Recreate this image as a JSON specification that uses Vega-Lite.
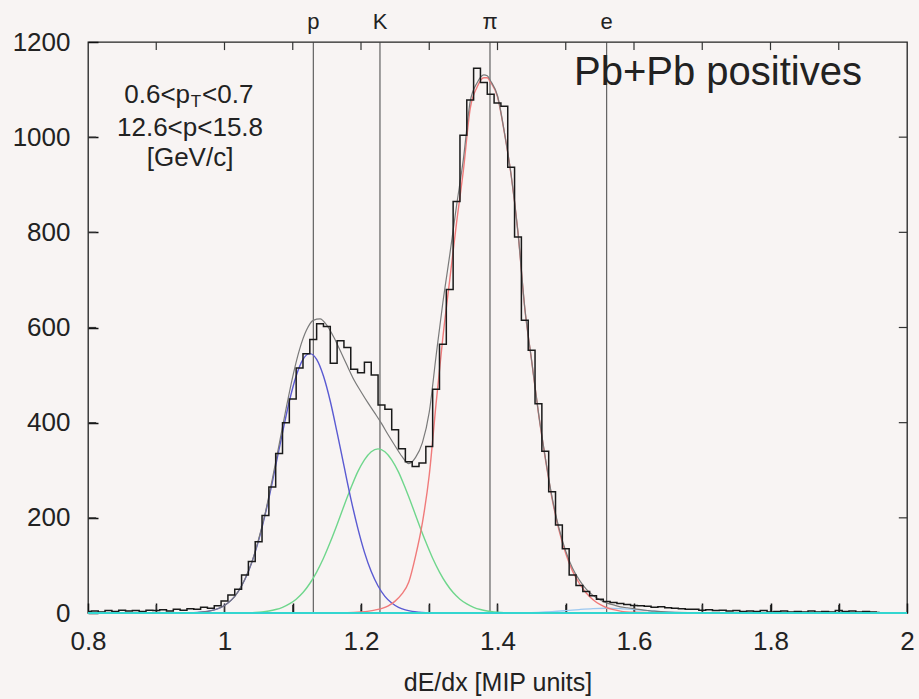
{
  "$schema": "https://vega.github.io/schema/vega-lite/v6.json",
  "width": 819,
  "height": 571,
  "autosize": {"type": "none"},
  "padding": {"left": 88, "top": 42, "right": 12, "bottom": 86},
  "background": "#f8f4f3",
  "config": {
    "view": {"stroke": "#222222", "strokeWidth": 1.3},
    "font": "Liberation Sans",
    "axis": {"grid": false, "domain": false, "ticks": true, "tickColor": "#111111", "tickWidth": 1.5, "labelColor": "#222222", "titleColor": "#222222", "labelFont": "Liberation Sans", "titleFont": "Liberation Sans"}
  },
  "datasets": {
    "hist": [
      {"x":0.80,"y":3},{"x":0.81,"y":4},{"x":0.82,"y":2},{"x":0.83,"y":5},{"x":0.84,"y":3},{"x":0.85,"y":6},{"x":0.86,"y":4},{"x":0.87,"y":5},{"x":0.88,"y":3},{"x":0.89,"y":6},
      {"x":0.90,"y":5},{"x":0.91,"y":7},{"x":0.92,"y":4},{"x":0.93,"y":8},{"x":0.94,"y":6},{"x":0.95,"y":9},{"x":0.96,"y":8},{"x":0.97,"y":12},{"x":0.98,"y":10},{"x":0.99,"y":15},
      {"x":1.00,"y":25},{"x":1.01,"y":38},{"x":1.02,"y":50},{"x":1.03,"y":80},{"x":1.04,"y":108},{"x":1.05,"y":150},{"x":1.06,"y":205},{"x":1.07,"y":265},{"x":1.08,"y":335},{"x":1.09,"y":400},
      {"x":1.10,"y":450},{"x":1.11,"y":515},{"x":1.12,"y":545},{"x":1.13,"y":575},{"x":1.14,"y":608},{"x":1.15,"y":602},{"x":1.16,"y":525},{"x":1.17,"y":572},{"x":1.18,"y":558},{"x":1.19,"y":512},
      {"x":1.20,"y":505},{"x":1.21,"y":527},{"x":1.22,"y":500},{"x":1.23,"y":437},{"x":1.24,"y":428},{"x":1.25,"y":385},{"x":1.26,"y":345},{"x":1.27,"y":318},{"x":1.28,"y":308},{"x":1.29,"y":315},
      {"x":1.30,"y":350},{"x":1.31,"y":470},{"x":1.32,"y":565},{"x":1.33,"y":680},{"x":1.34,"y":865},{"x":1.35,"y":1004},{"x":1.36,"y":1078},{"x":1.37,"y":1145},{"x":1.38,"y":1115},{"x":1.39,"y":1090},
      {"x":1.40,"y":1072},{"x":1.41,"y":1065},{"x":1.42,"y":937},{"x":1.43,"y":790},{"x":1.44,"y":615},{"x":1.45,"y":552},{"x":1.46,"y":440},{"x":1.47,"y":340},{"x":1.48,"y":255},{"x":1.49,"y":185},
      {"x":1.50,"y":135},{"x":1.51,"y":80},{"x":1.52,"y":58},{"x":1.53,"y":45},{"x":1.54,"y":36},{"x":1.55,"y":29},{"x":1.56,"y":24},{"x":1.57,"y":22},{"x":1.58,"y":20},{"x":1.59,"y":18},
      {"x":1.60,"y":16},{"x":1.61,"y":15},{"x":1.62,"y":14},{"x":1.63,"y":12},{"x":1.64,"y":13},{"x":1.65,"y":11},{"x":1.66,"y":10},{"x":1.67,"y":9},{"x":1.68,"y":8},{"x":1.69,"y":8},
      {"x":1.70,"y":6},{"x":1.71,"y":7},{"x":1.72,"y":5},{"x":1.73,"y":6},{"x":1.74,"y":4},{"x":1.75,"y":5},{"x":1.76,"y":3},{"x":1.77,"y":4},{"x":1.78,"y":3},{"x":1.79,"y":5},
      {"x":1.80,"y":2},{"x":1.81,"y":3},{"x":1.82,"y":4},{"x":1.83,"y":2},{"x":1.84,"y":3},{"x":1.85,"y":2},{"x":1.86,"y":4},{"x":1.87,"y":2},{"x":1.88,"y":3},{"x":1.89,"y":2},
      {"x":1.90,"y":5},{"x":1.91,"y":3},{"x":1.92,"y":4},{"x":1.93,"y":2},{"x":1.94,"y":3},{"x":1.95,"y":2},{"x":1.96,"y":1}
    ],
    "blue": [
      {"x":0.80,"y":0},{"x":0.945,"y":0.3},{"x":0.955,"y":0.8},{"x":0.965,"y":1.7},{"x":0.975,"y":3.3},{"x":0.985,"y":6.5},{"x":0.995,"y":11.9},{"x":1.005,"y":21},{"x":1.015,"y":35},{"x":1.025,"y":56.7},
      {"x":1.035,"y":87},{"x":1.045,"y":128},{"x":1.055,"y":180},{"x":1.065,"y":241},{"x":1.075,"y":309.5},{"x":1.085,"y":379},{"x":1.095,"y":445},{"x":1.105,"y":498},{"x":1.115,"y":533},{"x":1.125,"y":545},
      {"x":1.135,"y":533},{"x":1.145,"y":498},{"x":1.155,"y":445},{"x":1.165,"y":379},{"x":1.175,"y":309.5},{"x":1.185,"y":241},{"x":1.195,"y":180},{"x":1.205,"y":128},{"x":1.215,"y":87},{"x":1.225,"y":56.7},
      {"x":1.235,"y":35},{"x":1.245,"y":21},{"x":1.255,"y":11.9},{"x":1.265,"y":6.5},{"x":1.275,"y":3.3},{"x":1.285,"y":1.7},{"x":1.295,"y":0.8},{"x":1.305,"y":0.3},{"x":2.0,"y":0}
    ],
    "green": [
      {"x":0.80,"y":0},{"x":1.025,"y":0.4},{"x":1.035,"y":0.7},{"x":1.045,"y":1.3},{"x":1.055,"y":2.4},{"x":1.065,"y":4.3},{"x":1.075,"y":7.3},{"x":1.085,"y":12},{"x":1.095,"y":19},{"x":1.105,"y":29},
      {"x":1.115,"y":43},{"x":1.125,"y":62},{"x":1.135,"y":86},{"x":1.145,"y":115},{"x":1.155,"y":149},{"x":1.165,"y":186},{"x":1.175,"y":225},{"x":1.185,"y":262},{"x":1.195,"y":296},{"x":1.205,"y":322},
      {"x":1.215,"y":339},{"x":1.225,"y":345},{"x":1.235,"y":339},{"x":1.245,"y":322},{"x":1.255,"y":296},{"x":1.265,"y":262},{"x":1.275,"y":225},{"x":1.285,"y":186},{"x":1.295,"y":149},{"x":1.305,"y":115},
      {"x":1.315,"y":86},{"x":1.325,"y":62},{"x":1.335,"y":43},{"x":1.345,"y":29},{"x":1.355,"y":19},{"x":1.365,"y":12},{"x":1.375,"y":7.3},{"x":1.385,"y":4.3},{"x":1.395,"y":2.4},{"x":1.405,"y":1.3},
      {"x":1.415,"y":0.7},{"x":1.425,"y":0.4},{"x":2.0,"y":0}
    ],
    "red": [
      {"x":0.80,"y":0},{"x":1.18,"y":0.5},{"x":1.20,"y":2},{"x":1.22,"y":6},{"x":1.24,"y":15},{"x":1.25,"y":25},{"x":1.26,"y":40},{"x":1.27,"y":65},{"x":1.28,"y":120},{"x":1.29,"y":190},
      {"x":1.30,"y":290},{"x":1.31,"y":440},{"x":1.32,"y":580},{"x":1.33,"y":700},{"x":1.34,"y":820},{"x":1.35,"y":930},{"x":1.36,"y":1060},{"x":1.37,"y":1105},{"x":1.38,"y":1125},{"x":1.385,"y":1125},
      {"x":1.39,"y":1115},{"x":1.40,"y":1085},{"x":1.41,"y":1010},{"x":1.42,"y":920},{"x":1.43,"y":800},{"x":1.44,"y":640},{"x":1.45,"y":530},{"x":1.46,"y":420},{"x":1.47,"y":325},{"x":1.48,"y":240},
      {"x":1.49,"y":175},{"x":1.50,"y":125},{"x":1.51,"y":88},{"x":1.52,"y":62},{"x":1.53,"y":42},{"x":1.54,"y":28},{"x":1.55,"y":18},{"x":1.56,"y":11},{"x":1.57,"y":7},{"x":1.58,"y":4},
      {"x":1.60,"y":1.5},{"x":1.65,"y":0},{"x":2.0,"y":0}
    ],
    "ecurve": [
      {"x":0.80,"y":0},{"x":1.40,"y":0.1},{"x":1.44,"y":0.6},{"x":1.46,"y":1.4},{"x":1.48,"y":2.8},{"x":1.50,"y":4.9},{"x":1.52,"y":7.3},{"x":1.54,"y":9.2},{"x":1.56,"y":10},{"x":1.58,"y":9.2},
      {"x":1.60,"y":7.3},{"x":1.62,"y":4.9},{"x":1.64,"y":2.8},{"x":1.66,"y":1.4},{"x":1.68,"y":0.6},{"x":1.72,"y":0.1},{"x":2.0,"y":0}
    ],
    "total": [
      {"x":0.80,"y":0},{"x":0.95,"y":0.5},{"x":0.96,"y":1.1},{"x":0.97,"y":2.4},{"x":0.98,"y":4.7},{"x":0.99,"y":8.8},{"x":1.00,"y":16},{"x":1.01,"y":27},{"x":1.02,"y":45},{"x":1.03,"y":71.5},
      {"x":1.04,"y":107},{"x":1.05,"y":155},{"x":1.06,"y":212},{"x":1.07,"y":281},{"x":1.08,"y":354},{"x":1.09,"y":428},{"x":1.10,"y":497},{"x":1.11,"y":554},{"x":1.12,"y":594},{"x":1.13,"y":615},
      {"x":1.14,"y":618},{"x":1.15,"y":604.5},{"x":1.16,"y":580},{"x":1.17,"y":550},{"x":1.18,"y":519},{"x":1.19,"y":489},{"x":1.20,"y":465},{"x":1.21,"y":442},{"x":1.22,"y":420.5},{"x":1.23,"y":398.5},
      {"x":1.24,"y":374},{"x":1.25,"y":351},{"x":1.26,"y":329},{"x":1.27,"y":314},{"x":1.28,"y":327},{"x":1.29,"y":358},{"x":1.30,"y":422},{"x":1.31,"y":540},{"x":1.32,"y":653},{"x":1.33,"y":752},
      {"x":1.34,"y":856},{"x":1.35,"y":954},{"x":1.36,"y":1075},{"x":1.37,"y":1114},{"x":1.38,"y":1131},{"x":1.385,"y":1129},{"x":1.39,"y":1118},{"x":1.40,"y":1087},{"x":1.41,"y":1011},{"x":1.42,"y":920.5},
      {"x":1.43,"y":800},{"x":1.44,"y":641},{"x":1.45,"y":531},{"x":1.46,"y":421},{"x":1.47,"y":327},{"x":1.48,"y":243},{"x":1.49,"y":179},{"x":1.50,"y":130},{"x":1.51,"y":94},{"x":1.52,"y":69},
      {"x":1.53,"y":50},{"x":1.54,"y":37},{"x":1.55,"y":28},{"x":1.56,"y":21},{"x":1.57,"y":17},{"x":1.58,"y":13},{"x":1.59,"y":11},{"x":1.60,"y":9},{"x":1.61,"y":7},{"x":1.62,"y":5.3},
      {"x":1.63,"y":3.8},{"x":1.64,"y":2.8},{"x":1.65,"y":2.0},{"x":1.66,"y":1.4},{"x":1.68,"y":0.6},{"x":1.70,"y":0.2},{"x":2.0,"y":0}
    ],
    "base": [{"x":0.8,"y":0},{"x":2.0,"y":0}],
    "lines": [
      {"x":1.1301,"label":"p"},{"x":1.2278,"label":"K"},{"x":1.389,"label":"π"},{"x":1.56,"label":"e"}
    ],
    "xticks": [{"x":0.9},{"x":1.0},{"x":1.1},{"x":1.2},{"x":1.3},{"x":1.4},{"x":1.5},{"x":1.6},{"x":1.7},{"x":1.8},{"x":1.9}],
    "yticks": [{"y":200},{"y":400},{"y":600},{"y":800},{"y":1000}],
    "one": [{}]
  },
  "layer": [
    {
      "data": {"name": "lines"},
      "mark": {"type": "rule", "color": "#444444", "strokeWidth": 1},
      "encoding": {
        "x": {"field": "x", "type": "quantitative", "scale": {"domain": [0.8, 2.0], "nice": false, "zero": false}, "axis": null},
        "y": {"datum": 0, "type": "quantitative", "scale": {"domain": [0, 1200], "nice": false}, "axis": null},
        "y2": {"datum": 1200}
      }
    },
    {
      "data": {"name": "xticks"},
      "mark": {"type": "rule", "color": "#333333", "strokeWidth": 1.2},
      "encoding": {
        "x": {"field": "x", "type": "quantitative", "axis": null},
        "y": {"datum": 0, "type": "quantitative", "axis": null},
        "y2": {"datum": 17}
      }
    },
    {
      "data": {"name": "xticks"},
      "mark": {"type": "rule", "color": "#333333", "strokeWidth": 1.2},
      "encoding": {
        "x": {"field": "x", "type": "quantitative", "axis": null},
        "y": {"datum": 1200, "type": "quantitative", "axis": null},
        "y2": {"datum": 1183}
      }
    },
    {
      "data": {"name": "yticks"},
      "mark": {"type": "rule", "color": "#333333", "strokeWidth": 1.2},
      "encoding": {
        "y": {"field": "y", "type": "quantitative", "axis": null},
        "x": {"datum": 0.8, "type": "quantitative", "axis": null},
        "x2": {"datum": 0.812}
      }
    },
    {
      "data": {"name": "yticks"},
      "mark": {"type": "rule", "color": "#333333", "strokeWidth": 1.2},
      "encoding": {
        "y": {"field": "y", "type": "quantitative", "axis": null},
        "x": {"datum": 2.0, "type": "quantitative", "axis": null},
        "x2": {"datum": 1.988}
      }
    },
    {
      "data": {"name": "lines"},
      "mark": {"type": "text", "fontSize": 22, "color": "#222222", "baseline": "alphabetic", "align": "center", "dy": -13, "clip": false},
      "encoding": {
        "x": {"field": "x", "type": "quantitative", "axis": null},
        "y": {"datum": 1200, "type": "quantitative", "axis": null},
        "text": {"field": "label"}
      }
    },
    {
      "data": {"name": "ecurve"},
      "mark": {"type": "line", "color": "#9cc8f0", "strokeWidth": 1.3, "interpolate": "monotone"},
      "encoding": {"x": {"field": "x", "type": "quantitative", "axis": null}, "y": {"field": "y", "type": "quantitative", "axis": null}}
    },
    {
      "data": {"name": "green"},
      "mark": {"type": "line", "color": "#6fd68c", "strokeWidth": 1.4, "interpolate": "monotone"},
      "encoding": {"x": {"field": "x", "type": "quantitative", "axis": null}, "y": {"field": "y", "type": "quantitative", "axis": null}}
    },
    {
      "data": {"name": "blue"},
      "mark": {"type": "line", "color": "#5a5ad2", "strokeWidth": 1.4, "interpolate": "monotone"},
      "encoding": {"x": {"field": "x", "type": "quantitative", "axis": null}, "y": {"field": "y", "type": "quantitative", "axis": null}}
    },
    {
      "data": {"name": "red"},
      "mark": {"type": "line", "color": "#f07a7a", "strokeWidth": 1.4, "interpolate": "monotone"},
      "encoding": {"x": {"field": "x", "type": "quantitative", "axis": null}, "y": {"field": "y", "type": "quantitative", "axis": null}}
    },
    {
      "data": {"name": "total"},
      "mark": {"type": "line", "color": "#7a7a7a", "strokeWidth": 1.2, "interpolate": "monotone"},
      "encoding": {"x": {"field": "x", "type": "quantitative", "axis": null}, "y": {"field": "y", "type": "quantitative", "axis": null}}
    },
    {
      "data": {"name": "hist"},
      "mark": {"type": "line", "color": "#1a1a1a", "strokeWidth": 1.5, "interpolate": "step"},
      "encoding": {
        "x": {"field": "x", "type": "quantitative", "axis": {"orient": "bottom", "values": [0.8,0.9,1.0,1.1,1.2,1.3,1.4,1.5,1.6,1.7,1.8,1.9,2.0], "format": "~g", "labelExpr": "indexof(['0.8','1','1.2','1.4','1.6','1.8','2'], datum.label) >= 0 ? datum.label : ''", "labelFlush": false, "ticks": true, "tickSize": 10, "offset": -10, "labelPadding": 15, "labelFontSize": 26, "title": "dE/dx [MIP units]", "titleFontSize": 25, "titleFontWeight": "normal", "titlePadding": 16}},
        "y": {"field": "y", "type": "quantitative", "axis": {"orient": "left", "values": [0,200,400,600,800,1000,1200], "format": "d", "ticks": true, "tickSize": 10, "offset": -10, "labelPadding": 18, "labelFontSize": 26, "title": null}}
      }
    },
    {
      "data": {"name": "base"},
      "mark": {"type": "line", "color": "#33d6d0", "strokeWidth": 2},
      "encoding": {
        "x": {"field": "x", "type": "quantitative", "axis": null},
        "y": {"field": "y", "type": "quantitative", "axis": null}
      }
    },
    {
      "data": {"name": "one"},
      "mark": {"type": "text", "text": "Pb+Pb positives", "fontSize": 40, "color": "#222222", "align": "center", "baseline": "alphabetic"},
      "encoding": {"x": {"datum": 1.723, "type": "quantitative", "axis": null}, "y": {"datum": 1109, "type": "quantitative", "axis": null}}
    },
    {
      "data": {"name": "one"},
      "mark": {"type": "text", "text": "0.6<p", "fontSize": 26, "color": "#222222", "align": "right", "baseline": "middle", "dx": 0},
      "encoding": {"x": {"datum": 0.9495, "type": "quantitative", "axis": null}, "y": {"datum": 1088, "type": "quantitative", "axis": null}}
    },
    {
      "data": {"name": "one"},
      "mark": {"type": "text", "text": "T", "fontSize": 17, "color": "#222222", "align": "center", "baseline": "middle", "dx": 6, "dy": 7},
      "encoding": {"x": {"datum": 0.9495, "type": "quantitative", "axis": null}, "y": {"datum": 1088, "type": "quantitative", "axis": null}}
    },
    {
      "data": {"name": "one"},
      "mark": {"type": "text", "text": "<0.7", "fontSize": 26, "color": "#222222", "align": "left", "baseline": "middle", "dx": 12},
      "encoding": {"x": {"datum": 0.9495, "type": "quantitative", "axis": null}, "y": {"datum": 1088, "type": "quantitative", "axis": null}}
    },
    {
      "data": {"name": "one"},
      "mark": {"type": "text", "text": "12.6<p<15.8", "fontSize": 26, "color": "#222222", "align": "center", "baseline": "middle"},
      "encoding": {"x": {"datum": 0.9495, "type": "quantitative", "axis": null}, "y": {"datum": 1019, "type": "quantitative", "axis": null}}
    },
    {
      "data": {"name": "one"},
      "mark": {"type": "text", "text": "[GeV/c]", "fontSize": 26, "color": "#222222", "align": "center", "baseline": "middle"},
      "encoding": {"x": {"datum": 0.9495, "type": "quantitative", "axis": null}, "y": {"datum": 956, "type": "quantitative", "axis": null}}
    }
  ],
  "resolve": {"axis": {"x": "independent", "y": "independent"}}
}
